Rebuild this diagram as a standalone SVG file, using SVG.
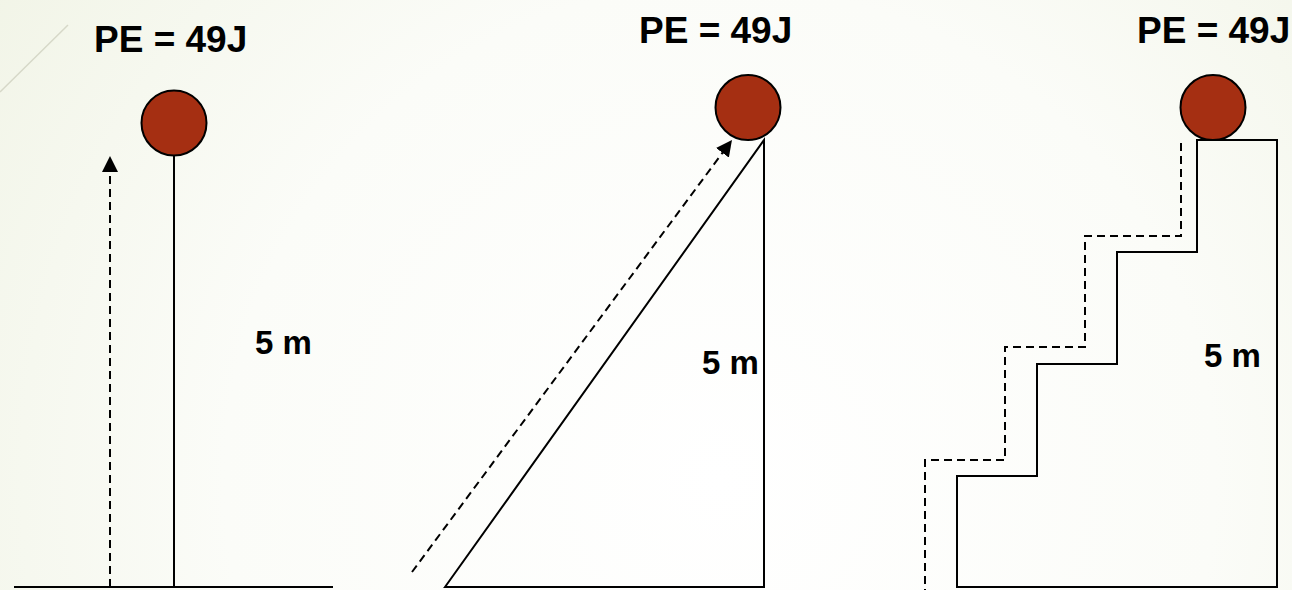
<svg xmlns="http://www.w3.org/2000/svg" width="1292" height="590" viewBox="0 0 1292 590">
  <defs>
    <radialGradient id="bg" cx="720" cy="480" r="900" gradientUnits="userSpaceOnUse">
      <stop offset="0" stop-color="#ffffff"/>
      <stop offset="0.55" stop-color="#fbfcf8"/>
      <stop offset="1" stop-color="#f1f4e6"/>
    </radialGradient>
    <marker id="arrow" markerWidth="16" markerHeight="16" refX="8" refY="8" orient="auto" markerUnits="userSpaceOnUse">
      <path d="M0,0 L16,8 L0,16 z" fill="#000"/>
    </marker>
  </defs>
  <style>
    .solid { fill: none; stroke: #000; stroke-width: 2; }
    .dash { fill: none; stroke: #000; stroke-width: 2; stroke-dasharray: 8 5; }
    .ball { fill: #a52f12; stroke: #000; stroke-width: 2; }
    .pe { font-family: "Liberation Sans", Arial, sans-serif; font-weight: bold; font-size: 37px; fill: #000; }
    .h { font-family: "Liberation Sans", Arial, sans-serif; font-weight: bold; font-size: 33px; fill: #000; }
  </style>
  <rect x="0" y="0" width="1292" height="590" fill="url(#bg)"/>
  <line x1="0" y1="92" x2="68" y2="25" stroke="#d6d8c8" stroke-width="1.5"/>

  <g id="panel-vertical">
    <line class="solid" x1="14" y1="587" x2="333" y2="587"/>
    <line class="solid" x1="174" y1="155" x2="174" y2="587"/>
    <circle id="ball1" class="ball" cx="174" cy="123" r="32.5"/>
    <text class="pe" x="94" y="52">PE = 49J</text>
    <text class="h" x="255" y="354">5 m</text>
  </g>

  <g id="panel-ramp">
    <path class="solid" d="M445,587 L764,140 L764,587 Z"/>
    <circle id="ball2" class="ball" cx="748" cy="107.5" r="32.5"/>
    <text class="pe" x="639" y="43">PE = 49J</text>
    <text class="h" x="702" y="374">5 m</text>
  </g>

  <g id="panel-stairs">
    <path class="solid" d="M957,587 L957,476 L1037,476 L1037,364 L1117,364 L1117,252 L1197,252 L1197,140 L1277,140 L1277,587 Z"/>
    <circle id="ball3" class="ball" cx="1213" cy="107.5" r="32.5"/>
    <text class="pe" x="1137" y="43">PE = 49J</text>
    <text class="h" x="1204" y="367">5 m</text>
  </g>

  <g id="connectors">
    <line class="dash" x1="110" y1="587" x2="110" y2="164" marker-end="url(#arrow)"/>
    <line class="dash" x1="412" y1="572" x2="727.2" y2="146.4" marker-end="url(#arrow)"/>
    <path class="dash" d="M1181,143 L1181,236 L1085,236 L1085,347 L1005,347 L1005,460 L925,460 L925,590"/>
  </g>
</svg>
